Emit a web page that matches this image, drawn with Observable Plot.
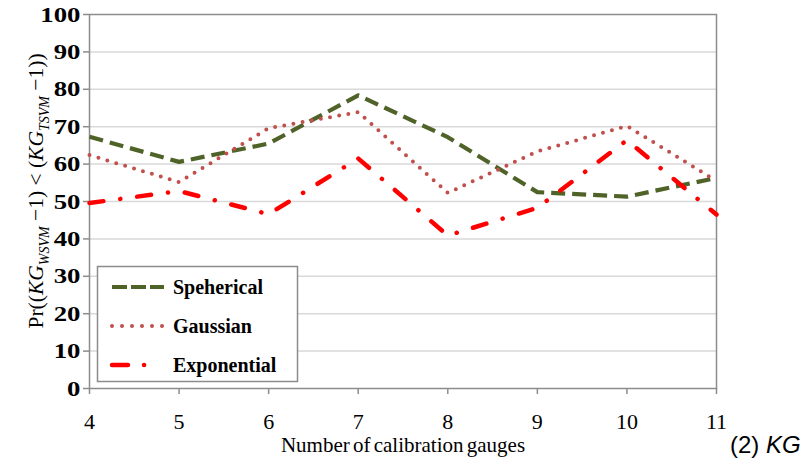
<!DOCTYPE html>
<html><head><meta charset="utf-8">
<script src="https://cdn.jsdelivr.net/npm/d3@7"></script>
<script src="https://cdn.jsdelivr.net/npm/@observablehq/plot@0.6"></script>
<style>body{margin:0;background:#fff;} #chart svg{display:block;}</style>
</head><body><div id="chart"></div>
<script>
const gauges = [4, 5, 6, 7, 8, 9, 10, 11];
const spherical = [67.3, 60.6, 65.5, 78.4, 67.2, 52.5, 51.3, 56.3];
const gaussian = [62.4, 55.2, 69.6, 73.9, 52.3, 63.4, 70.2, 55.5];
const exponential = [49.6, 52.8, 46.6, 61.5, 40.9, 48.3, 66.4, 46.5];
const yTicks = [0, 10, 20, 30, 40, 50, 60, 70, 80, 90, 100];
const seriesNames = ["Speherical", "Gaussian", "Exponential"];
const xLabel = "Number of calibration gauges";
const panelLabel = ["(2) ", "KG"];

const SERIF = "'Liberation Serif', 'Times New Roman', 'DejaVu Serif', serif";
const styles = [
  {stroke: "#4F6228", strokeWidth: 4.2, strokeDasharray: "14,7", strokeLinecap: "butt"},
  {stroke: "#C0504D", strokeWidth: 4, strokeDasharray: "0,9.3", strokeLinecap: "round"},
  {stroke: "#FF0000", strokeWidth: 4.5, strokeDasharray: "14,17,0.1,17", strokeLinecap: "round"}
];
const seriesValues = [spherical, gaussian, exponential];
const data = seriesValues.map((vals, i) => gauges.map((g, j) => ({x: g, y: vals[j], s: seriesNames[i]})));

const W = 807, H = 464;
const chart = Plot.plot({
  width: W, height: H,
  marginLeft: 89, marginRight: 91, marginTop: 14, marginBottom: 76,
  style: {background: "#fff"},
  x: {domain: [4, 11], ticks: gauges, label: null},
  y: {domain: [0, 100], ticks: yTicks, label: null},
  marks: [
    Plot.gridY(yTicks.filter(d => d > 0 && d < 100), {stroke: "#d9d9d9", strokeOpacity: 1, strokeWidth: 1.5}),
    Plot.frame({stroke: "#8c8c8c", strokeWidth: 1.5}),
    Plot.axisY(yTicks, {tickSize: 6, tickPadding: 3, stroke: "#8c8c8c", strokeWidth: 1.5,
      fontSize: 22, fontWeight: "bold", fill: "#000", label: null, className: "yax"}),
    Plot.axisX(gauges, {tickSize: 6, tickPadding: 19, stroke: "#8c8c8c", strokeWidth: 1.5,
      fontSize: 22, fill: "#000", label: null, className: "xax"}),
    ...data.map((d, i) => Plot.line(d, {x: "x", y: "y", ...styles[i]}))
  ]
});
document.getElementById("chart").appendChild(chart);

const svg = d3.select(chart);
svg.selectAll("text").style("font-family", SERIF);
// widen the bold y tick labels like the reference's stretched glyphs
svg.selectAll(".yax text").each(function() {
  const t = d3.select(this);
  const s = t.text();
  if (s && s.length) t.attr("textLength", 13.4 * s.length).attr("lengthAdjust", "spacingAndGlyphs");
});

// y-axis label
const yl = svg.append("text")
  .attr("transform", "translate(43,191) rotate(-90)")
  .attr("text-anchor", "middle")
  .style("font-family", SERIF)
  .attr("font-size", 21.5)
  .attr("fill", "#000");
const parts = [
  {t: "Pr((", it: false},
  {t: "KG", it: true},
  {t: "WSVM", it: true, sub: true},
  {t: " \u22121) < (", it: false},
  {t: "KG", it: true},
  {t: "TSVM", it: true, sub: true},
  {t: " \u22121))", it: false}
];
parts.forEach((p, i) => {
  const ts = yl.append("tspan").text(p.t);
  if (p.it) ts.attr("font-style", "italic");
  if (p.sub) ts.attr("font-size", 14).attr("dy", 6);
  else if (i > 0 && parts[i - 1].sub) ts.attr("dy", -6);
});

// x-axis label
svg.append("text")
  .attr("x", 403).attr("y", 452)
  .attr("text-anchor", "middle")
  .style("font-family", SERIF)
  .style("word-spacing", "-2px")
  .attr("font-size", 21)
  .attr("fill", "#000")
  .text(xLabel);

// panel label
const pl = svg.append("text")
  .attr("x", 730).attr("y", 453)
  .attr("text-anchor", "start")
  .style("font-family", "'Liberation Sans', Arial, sans-serif")
  .attr("font-size", 24)
  .attr("fill", "#000");
pl.append("tspan").text(panelLabel[0]);
pl.append("tspan").attr("font-style", "italic").text(panelLabel[1]);

// legend
const lg = svg.append("g");
lg.append("rect").attr("x", 97.5).attr("y", 266.5).attr("width", 200).attr("height", 115)
  .attr("fill", "#fff").attr("stroke", "#8c8c8c").attr("stroke-width", 1.5);
const legY = [287, 326, 365];
seriesNames.forEach((name, i) => {
  const s = styles[i];
  lg.append("line").attr("x1", 112).attr("x2", 164).attr("y1", legY[i]).attr("y2", legY[i])
    .attr("stroke", s.stroke).attr("stroke-width", s.strokeWidth)
    .attr("stroke-dasharray", i === 0 ? "15,4" : i === 1 ? "0,10" : "16,16,0.1,20")
    .attr("stroke-linecap", s.strokeLinecap);
  lg.append("text").attr("x", 173).attr("y", legY[i]).attr("dy", "0.35em")
    .attr("text-anchor", "start")
    .style("font-family", SERIF).attr("font-weight", "bold")
    .attr("font-size", 20).attr("fill", "#000").text(name);
});
</script>
</body></html>
